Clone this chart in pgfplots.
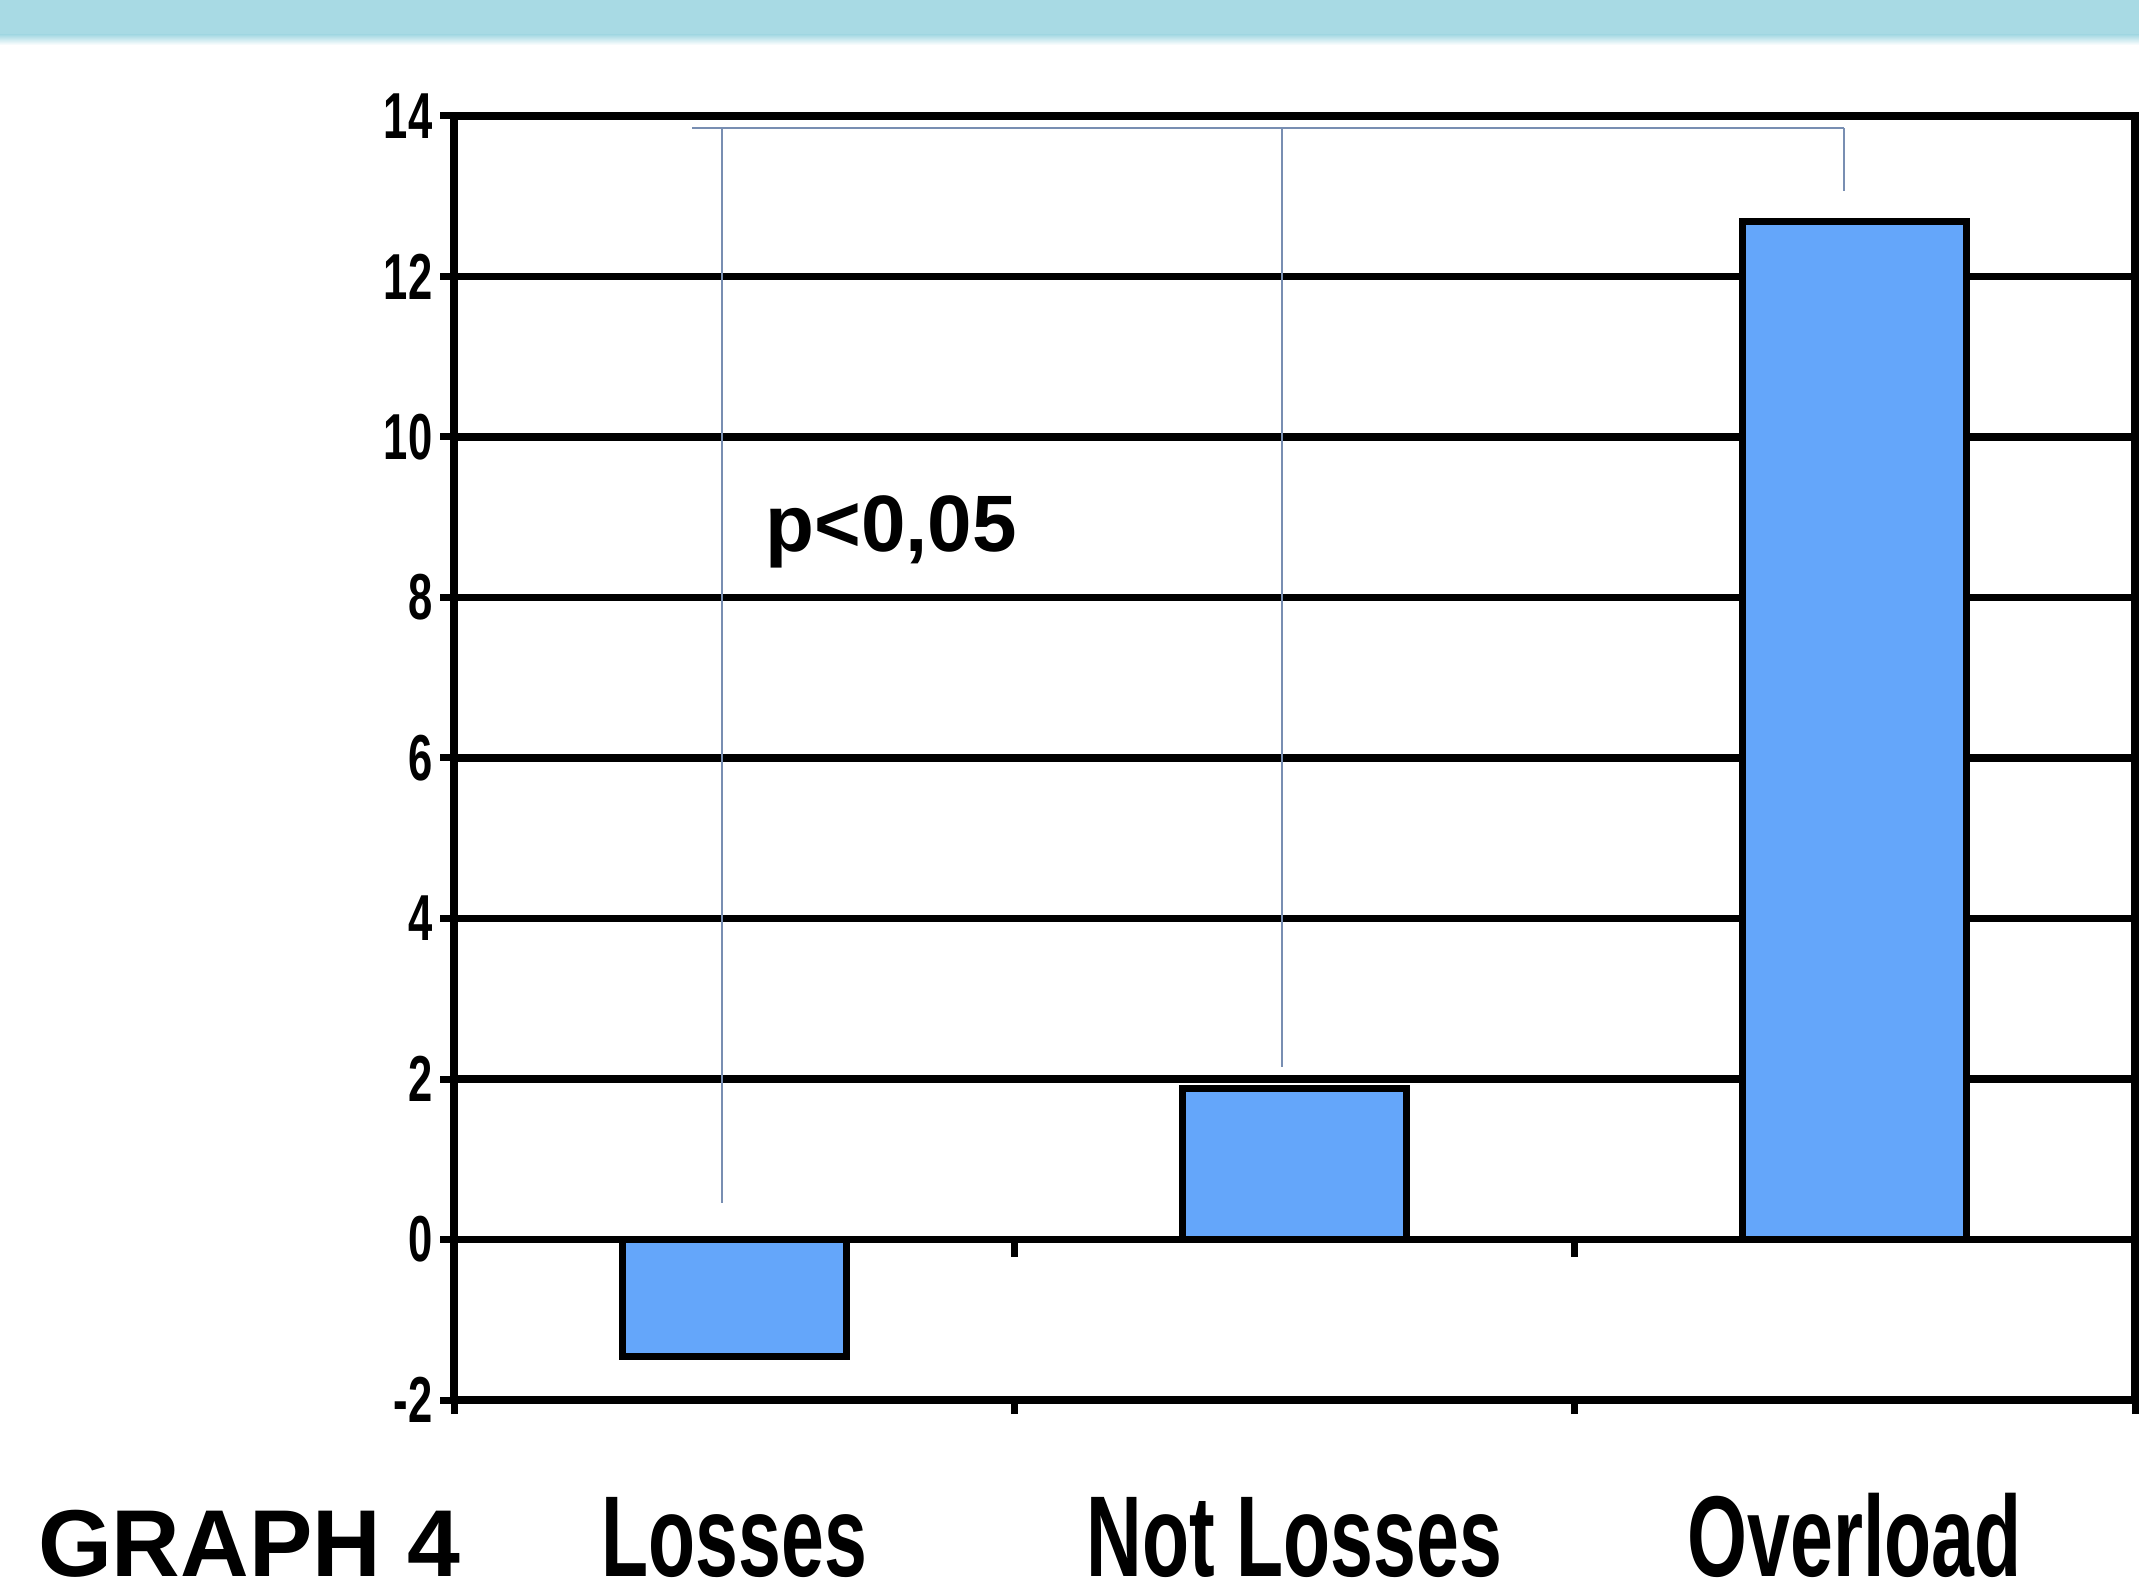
\documentclass[border=0pt]{standalone}
\usepackage{fontspec}
\setmainfont{Liberation Sans}
\newfontfamily\narrowfont[FakeStretch=0.67]{Liberation Sans}
\usepackage{pgfplots}
\pgfplotsset{compat=1.18}
\definecolor{barblue}{RGB}{100,166,250}
\definecolor{brack}{RGB}{120,142,178}
\definecolor{banner}{RGB}{168,218,228}
\begin{document}
\begin{tikzpicture}
\path[use as bounding box] (0,0) rectangle (427.8pt,318.6pt);
\fill[banner] (0,311.6pt) rectangle (427.8pt,318.6pt);
\shade[top color=banner, bottom color=white] (0,309.6pt) rectangle (427.8pt,311.6pt);
\begin{axis}[
  at={(90.8pt,38.6pt)}, anchor=south west,
  scale only axis, width=336.2pt, height=256.8pt,
  xmin=-0.5, xmax=2.5, ymin=-2, ymax=14,
  enlargelimits=false,
  axis line style={line width=1.5pt},
  ytick={-2,0,2,4,6,8,10,12,14},
  ymajorgrids, grid style={black, line width=1.5pt},
  tick align=outside, tick pos=left,
  major tick length=2.8pt,
  tick style={black, line width=1.4pt},
  /pgf/number format/assume math mode=true,
  yticklabel style={font=\fontsize{13}{14}\selectfont\narrowfont\bfseries, xshift=2pt},
  xtick={-0.5,0.5,1.5,2.5},
  xticklabels={},
  extra x ticks={0,1,2},
  extra x tick labels={Losses,Not Losses,Overload},
  extra x tick style={major tick length=0pt, xticklabel style={font=\fontsize{23}{26}\selectfont\narrowfont\bfseries, anchor=base, yshift=-35.3pt}},
  clip=false,
]
\addplot[ybar, bar width=0.4, fill=barblue, draw=black, line width=1.4pt] coordinates {(0,-1.46) (1,1.88) (2,12.69)};
\addplot[brack, line width=0.45pt] coordinates {(-0.075,13.85) (1.981,13.85)};
\addplot[brack, line width=0.45pt] coordinates {(-0.022,13.85) (-0.022,0.455)};
\addplot[brack, line width=0.45pt] coordinates {(0.978,13.85) (0.978,2.15)};
\addplot[brack, line width=0.45pt] coordinates {(1.981,13.85) (1.981,13.07)};
\draw[black, line width=1.4pt] (axis cs:0.5,0) -- ([yshift=-3.4pt]axis cs:0.5,0);
\draw[black, line width=1.4pt] (axis cs:1.5,0) -- ([yshift=-3.4pt]axis cs:1.5,0);
\node[font=\fontsize{16}{19}\selectfont\bfseries] at (axis cs:0.28,8.82) {p<0,05};
\end{axis}
\node[anchor=base west, font=\fontsize{19}{22}\selectfont\bfseries, inner sep=0pt] at (7.4pt,3.4pt) {GRAPH 4};
\end{tikzpicture}
\end{document}
